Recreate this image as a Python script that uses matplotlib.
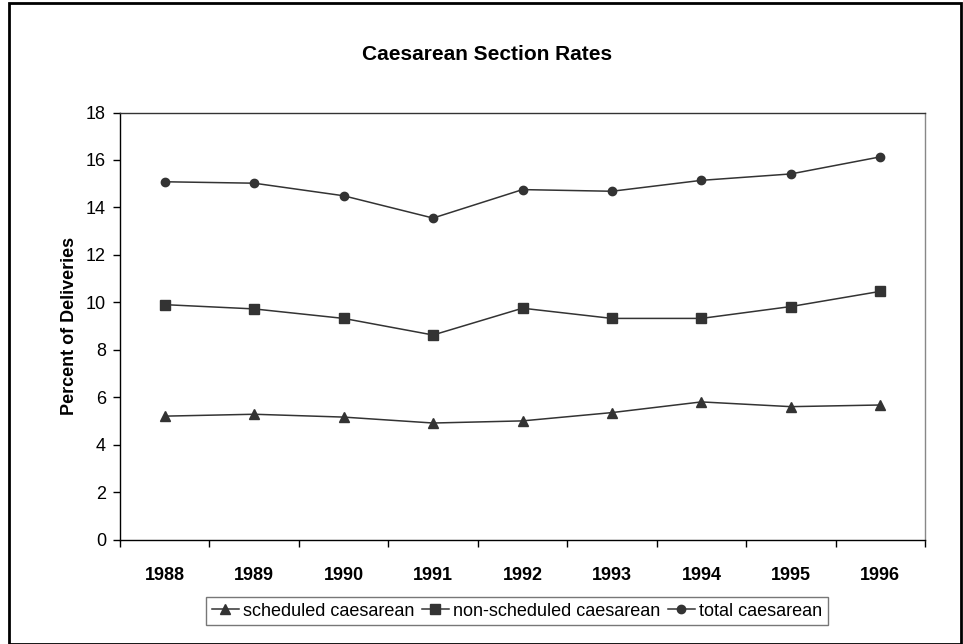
import matplotlib.pyplot as plt
from matplotlib.patches import Rectangle

plt.rcParams["font.family"] = ["Liberation Sans", "DejaVu Sans"]

years = ["1988", "1989", "1990", "1991", "1992", "1993", "1994", "1995", "1996"]
scheduled = [5.2, 5.28, 5.16, 4.91, 5.0, 5.35, 5.8, 5.6, 5.67]
non_scheduled = [9.9, 9.72, 9.32, 8.62, 9.75, 9.32, 9.32, 9.82, 10.46]
total = [15.08, 15.02, 14.49, 13.55, 14.75, 14.68, 15.14, 15.41, 16.13]

line_color = "#333333"

fig = plt.figure(figsize=(9.63, 6.44), dpi=100)
ax = fig.add_axes([120 / 963, 1 - 539.5 / 644, 805 / 963, 427 / 644])

x = range(len(years))
ax.plot(x, scheduled, color=line_color, lw=1.1, marker="^", ms=7, label="scheduled caesarean")
ax.plot(x, non_scheduled, color=line_color, lw=1.1, marker="s", ms=6.5, label="non-scheduled caesarean")
ax.plot(x, total, color=line_color, lw=1.1, marker="o", ms=6, label="total caesarean")

ax.set_xlim(-0.5, len(years) - 0.5)
ax.set_ylim(0, 18)
ax.set_yticks(range(0, 19, 2))
# ticks sit between the categories, labels at the centres
ax.set_xticks([i - 0.5 for i in range(len(years) + 1)])
ax.set_xticklabels([])
ax.set_xticks(list(x), minor=True)
ax.set_xticklabels(years, minor=True, fontsize=13, fontweight="bold")
ax.tick_params(axis="x", which="minor", length=0, pad=20)
ax.tick_params(axis="x", which="major", length=5, width=1, color="black", direction="out")
ax.tick_params(axis="y", length=5, width=1, direction="out", labelsize=13, pad=5)

ax.spines["left"].set_color("black")
ax.spines["bottom"].set_color("black")
ax.spines["top"].set_color("#333333")
ax.spines["right"].set_color("#888888")
for s in ax.spines.values():
    s.set_linewidth(1)

ax.set_ylabel("Percent of Deliveries", fontsize=13, fontweight="bold", labelpad=6)
fig.text(487 / 963, 1 - 55 / 644, "Caesarean Section Rates", fontsize=15,
         fontweight="bold", ha="center", va="center")

leg = fig.legend(loc="center", bbox_to_anchor=(517 / 963, 1 - 611 / 644), ncol=3,
                 fontsize=13, frameon=True, fancybox=False, handlelength=1.5,
                 handletextpad=0.25, columnspacing=0.4, borderpad=0.3,
                 borderaxespad=0)
leg.get_frame().set_edgecolor("#555555")
leg.get_frame().set_linewidth(1)

# outer chart border
fig.patches.append(Rectangle((9 / 963, 0.5 / 644), 952 / 963, 641 / 644,
                             transform=fig.transFigure, fill=False,
                             edgecolor="black", lw=2))

fig.savefig("out.png", dpi=100)
